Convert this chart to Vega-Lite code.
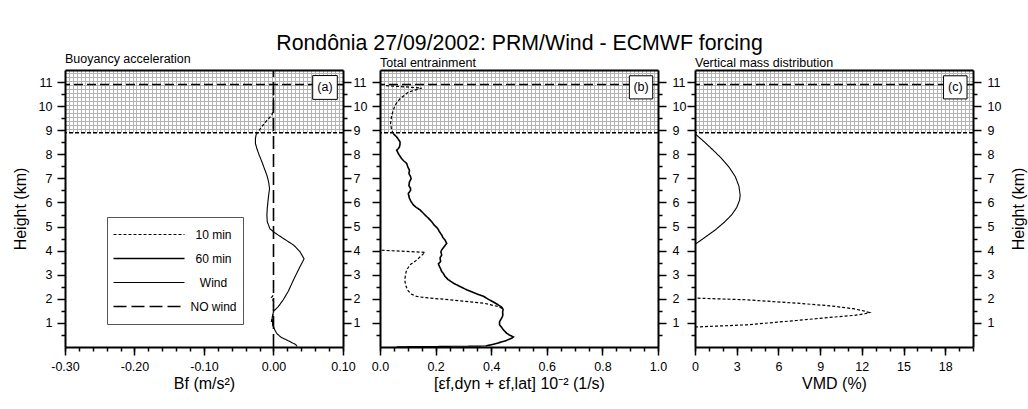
{
 "$schema": "https://vega.github.io/schema/vega-lite/v6.json",
 "padding": {"left": 12, "top": 33, "right": 5, "bottom": 5},
 "background": "white",
 "title": {"text": "Rondônia 27/09/2002: PRM/Wind - ECMWF forcing", "fontSize": 21.3, "fontWeight": "normal", "anchor": "middle", "baseline": "alphabetic", "offset": -18, "color": "black"},
 "datasets": {"curves": [
  {"panel":"a","series":"Wind","seg":"a1","h":0.02,"v":0.034},
  {"panel":"a","series":"Wind","seg":"a1","h":0.1,"v":0.032},
  {"panel":"a","series":"Wind","seg":"a1","h":0.25,"v":0.022},
  {"panel":"a","series":"Wind","seg":"a1","h":0.4,"v":0.011},
  {"panel":"a","series":"Wind","seg":"a1","h":0.55,"v":0.005},
  {"panel":"a","series":"Wind","seg":"a1","h":0.7,"v":0.002},
  {"panel":"a","series":"Wind","seg":"a1","h":0.92,"v":-0.001},
  {"panel":"a","series":"Wind","seg":"a1","h":1.2,"v":-0.002},
  {"panel":"a","series":"Wind","seg":"a1","h":1.48,"v":0.0},
  {"panel":"a","series":"Wind","seg":"a1","h":1.68,"v":0.007},
  {"panel":"a","series":"Wind","seg":"a1","h":1.96,"v":0.014},
  {"panel":"a","series":"Wind","seg":"a1","h":2.3,"v":0.021},
  {"panel":"a","series":"Wind","seg":"a1","h":2.86,"v":0.03},
  {"panel":"a","series":"Wind","seg":"a1","h":3.27,"v":0.037},
  {"panel":"a","series":"Wind","seg":"a1","h":3.66,"v":0.044},
  {"panel":"a","series":"Wind","seg":"a1","h":3.96,"v":0.038},
  {"panel":"a","series":"Wind","seg":"a1","h":4.23,"v":0.029},
  {"panel":"a","series":"Wind","seg":"a1","h":4.51,"v":0.014},
  {"panel":"a","series":"Wind","seg":"a1","h":4.72,"v":0.003},
  {"panel":"a","series":"Wind","seg":"a1","h":4.9,"v":-0.005},
  {"panel":"a","series":"Wind","seg":"a1","h":5.2,"v":-0.009},
  {"panel":"a","series":"Wind","seg":"a1","h":5.48,"v":-0.0095},
  {"panel":"a","series":"Wind","seg":"a1","h":5.75,"v":-0.009},
  {"panel":"a","series":"Wind","seg":"a1","h":6.03,"v":-0.008},
  {"panel":"a","series":"Wind","seg":"a1","h":6.3,"v":-0.007},
  {"panel":"a","series":"Wind","seg":"a1","h":6.58,"v":-0.0057},
  {"panel":"a","series":"Wind","seg":"a1","h":6.85,"v":-0.007},
  {"panel":"a","series":"Wind","seg":"a1","h":7.13,"v":-0.0095},
  {"panel":"a","series":"Wind","seg":"a1","h":7.4,"v":-0.013},
  {"panel":"a","series":"Wind","seg":"a1","h":7.69,"v":-0.0167},
  {"panel":"a","series":"Wind","seg":"a1","h":8.0,"v":-0.021},
  {"panel":"a","series":"Wind","seg":"a1","h":8.24,"v":-0.024},
  {"panel":"a","series":"Wind","seg":"a1","h":8.45,"v":-0.026},
  {"panel":"a","series":"Wind","seg":"a1","h":8.65,"v":-0.026},
  {"panel":"a","series":"Wind","seg":"a1","h":8.82,"v":-0.025},
  {"panel":"a","series":"10 min","seg":"a2","h":8.82,"v":-0.025},
  {"panel":"a","series":"10 min","seg":"a2","h":9.06,"v":-0.019},
  {"panel":"a","series":"10 min","seg":"a2","h":9.25,"v":-0.014},
  {"panel":"a","series":"10 min","seg":"a2","h":9.41,"v":-0.0095},
  {"panel":"a","series":"10 min","seg":"a2","h":9.62,"v":-0.0024},
  {"panel":"a","series":"10 min","seg":"a2","h":9.89,"v":0.0},
  {"panel":"a","series":"10 min","seg":"a2","h":10.9,"v":0.0},
  {"panel":"a","series":"10 min","seg":"a3","h":0.85,"v":0.0},
  {"panel":"a","series":"10 min","seg":"a3","h":1.05,"v":-0.003},
  {"panel":"a","series":"10 min","seg":"a3","h":1.2,"v":-0.002},
  {"panel":"a","series":"10 min","seg":"a3","h":1.4,"v":0.0},
  {"panel":"a","series":"10 min","seg":"a3","h":1.9,"v":0.0},
  {"panel":"a","series":"10 min","seg":"a3","h":2.05,"v":-0.003},
  {"panel":"a","series":"10 min","seg":"a3","h":2.12,"v":-0.001},
  {"panel":"a","series":"10 min","seg":"a3","h":2.2,"v":0.0},
  {"panel":"a","series":"NO wind","seg":"a4","h":0.0,"v":0.0},
  {"panel":"a","series":"NO wind","seg":"a4","h":11.5,"v":0.0},
  {"panel":"b","series":"Wind","seg":"b4","h":0.01,"v":0.06},
  {"panel":"b","series":"Wind","seg":"b4","h":0.04,"v":0.38},
  {"panel":"b","series":"60 min","seg":"b1","h":0.04,"v":0.38},
  {"panel":"b","series":"60 min","seg":"b1","h":0.12,"v":0.41},
  {"panel":"b","series":"60 min","seg":"b1","h":0.25,"v":0.45},
  {"panel":"b","series":"60 min","seg":"b1","h":0.37,"v":0.475},
  {"panel":"b","series":"60 min","seg":"b1","h":0.42,"v":0.48},
  {"panel":"b","series":"60 min","seg":"b1","h":0.5,"v":0.465},
  {"panel":"b","series":"60 min","seg":"b1","h":0.58,"v":0.455},
  {"panel":"b","series":"60 min","seg":"b1","h":0.7,"v":0.445},
  {"panel":"b","series":"60 min","seg":"b1","h":0.79,"v":0.439},
  {"panel":"b","series":"60 min","seg":"b1","h":0.92,"v":0.43},
  {"panel":"b","series":"60 min","seg":"b1","h":1.05,"v":0.43},
  {"panel":"b","series":"60 min","seg":"b1","h":1.13,"v":0.434},
  {"panel":"b","series":"60 min","seg":"b1","h":1.25,"v":0.44},
  {"panel":"b","series":"60 min","seg":"b1","h":1.34,"v":0.442},
  {"panel":"b","series":"60 min","seg":"b1","h":1.45,"v":0.441},
  {"panel":"b","series":"60 min","seg":"b1","h":1.55,"v":0.443},
  {"panel":"b","series":"60 min","seg":"b1","h":1.64,"v":0.439},
  {"panel":"b","series":"60 min","seg":"b1","h":1.75,"v":0.425},
  {"panel":"b","series":"60 min","seg":"b1","h":1.86,"v":0.409},
  {"panel":"b","series":"60 min","seg":"b1","h":1.98,"v":0.39},
  {"panel":"b","series":"60 min","seg":"b1","h":2.1,"v":0.373},
  {"panel":"b","series":"60 min","seg":"b1","h":2.22,"v":0.345},
  {"panel":"b","series":"60 min","seg":"b1","h":2.37,"v":0.3125},
  {"panel":"b","series":"60 min","seg":"b1","h":2.5,"v":0.29},
  {"panel":"b","series":"60 min","seg":"b1","h":2.65,"v":0.264},
  {"panel":"b","series":"60 min","seg":"b1","h":2.8,"v":0.245},
  {"panel":"b","series":"60 min","seg":"b1","h":2.93,"v":0.234},
  {"panel":"b","series":"60 min","seg":"b1","h":3.05,"v":0.228},
  {"panel":"b","series":"60 min","seg":"b1","h":3.13,"v":0.222},
  {"panel":"b","series":"60 min","seg":"b1","h":3.25,"v":0.218},
  {"panel":"b","series":"60 min","seg":"b1","h":3.34,"v":0.214},
  {"panel":"b","series":"60 min","seg":"b1","h":3.45,"v":0.21},
  {"panel":"b","series":"60 min","seg":"b1","h":3.55,"v":0.218},
  {"panel":"b","series":"60 min","seg":"b1","h":3.7,"v":0.216},
  {"panel":"b","series":"60 min","seg":"b1","h":3.82,"v":0.222},
  {"panel":"b","series":"60 min","seg":"b1","h":3.95,"v":0.219},
  {"panel":"b","series":"60 min","seg":"b1","h":4.03,"v":0.222},
  {"panel":"b","series":"60 min","seg":"b1","h":4.17,"v":0.231},
  {"panel":"b","series":"60 min","seg":"b1","h":4.3,"v":0.24},
  {"panel":"b","series":"60 min","seg":"b1","h":4.44,"v":0.234},
  {"panel":"b","series":"60 min","seg":"b1","h":4.55,"v":0.226},
  {"panel":"b","series":"60 min","seg":"b1","h":4.65,"v":0.222},
  {"panel":"b","series":"60 min","seg":"b1","h":4.8,"v":0.213},
  {"panel":"b","series":"60 min","seg":"b1","h":4.93,"v":0.207},
  {"panel":"b","series":"60 min","seg":"b1","h":5.05,"v":0.196},
  {"panel":"b","series":"60 min","seg":"b1","h":5.2,"v":0.186},
  {"panel":"b","series":"60 min","seg":"b1","h":5.35,"v":0.174},
  {"panel":"b","series":"60 min","seg":"b1","h":5.48,"v":0.162},
  {"panel":"b","series":"60 min","seg":"b1","h":5.6,"v":0.152},
  {"panel":"b","series":"60 min","seg":"b1","h":5.69,"v":0.144},
  {"panel":"b","series":"60 min","seg":"b1","h":5.8,"v":0.13},
  {"panel":"b","series":"60 min","seg":"b1","h":5.9,"v":0.12},
  {"panel":"b","series":"60 min","seg":"b1","h":6.05,"v":0.111},
  {"panel":"b","series":"60 min","seg":"b1","h":6.17,"v":0.106},
  {"panel":"b","series":"60 min","seg":"b1","h":6.3,"v":0.103},
  {"panel":"b","series":"60 min","seg":"b1","h":6.38,"v":0.102},
  {"panel":"b","series":"60 min","seg":"b1","h":6.5,"v":0.11},
  {"panel":"b","series":"60 min","seg":"b1","h":6.58,"v":0.11},
  {"panel":"b","series":"60 min","seg":"b1","h":6.7,"v":0.104},
  {"panel":"b","series":"60 min","seg":"b1","h":6.86,"v":0.106},
  {"panel":"b","series":"60 min","seg":"b1","h":6.98,"v":0.112},
  {"panel":"b","series":"60 min","seg":"b1","h":7.07,"v":0.11},
  {"panel":"b","series":"60 min","seg":"b1","h":7.2,"v":0.104},
  {"panel":"b","series":"60 min","seg":"b1","h":7.34,"v":0.106},
  {"panel":"b","series":"60 min","seg":"b1","h":7.48,"v":0.1},
  {"panel":"b","series":"60 min","seg":"b1","h":7.62,"v":0.096},
  {"panel":"b","series":"60 min","seg":"b1","h":7.72,"v":0.086},
  {"panel":"b","series":"60 min","seg":"b1","h":7.82,"v":0.078},
  {"panel":"b","series":"60 min","seg":"b1","h":7.92,"v":0.072},
  {"panel":"b","series":"60 min","seg":"b1","h":8.03,"v":0.066},
  {"panel":"b","series":"60 min","seg":"b1","h":8.17,"v":0.06},
  {"panel":"b","series":"60 min","seg":"b1","h":8.24,"v":0.066},
  {"panel":"b","series":"60 min","seg":"b1","h":8.31,"v":0.07},
  {"panel":"b","series":"60 min","seg":"b1","h":8.42,"v":0.072},
  {"panel":"b","series":"60 min","seg":"b1","h":8.52,"v":0.072},
  {"panel":"b","series":"60 min","seg":"b1","h":8.62,"v":0.066},
  {"panel":"b","series":"60 min","seg":"b1","h":8.72,"v":0.06},
  {"panel":"b","series":"60 min","seg":"b1","h":8.86,"v":0.048},
  {"panel":"b","series":"10 min","seg":"b2","h":8.86,"v":0.048},
  {"panel":"b","series":"10 min","seg":"b2","h":9.0,"v":0.042},
  {"panel":"b","series":"10 min","seg":"b2","h":9.28,"v":0.038},
  {"panel":"b","series":"10 min","seg":"b2","h":9.62,"v":0.042},
  {"panel":"b","series":"10 min","seg":"b2","h":10.04,"v":0.054},
  {"panel":"b","series":"10 min","seg":"b2","h":10.31,"v":0.072},
  {"panel":"b","series":"10 min","seg":"b2","h":10.58,"v":0.102},
  {"panel":"b","series":"10 min","seg":"b2","h":10.75,"v":0.15},
  {"panel":"b","series":"10 min","seg":"b2","h":10.8,"v":0.09},
  {"panel":"b","series":"10 min","seg":"b2","h":10.85,"v":0.02},
  {"panel":"b","series":"10 min","seg":"b3","h":1.6,"v":0.44},
  {"panel":"b","series":"10 min","seg":"b3","h":1.68,"v":0.425},
  {"panel":"b","series":"10 min","seg":"b3","h":1.82,"v":0.373},
  {"panel":"b","series":"10 min","seg":"b3","h":1.96,"v":0.252},
  {"panel":"b","series":"10 min","seg":"b3","h":2.05,"v":0.16},
  {"panel":"b","series":"10 min","seg":"b3","h":2.1,"v":0.132},
  {"panel":"b","series":"10 min","seg":"b3","h":2.2,"v":0.112},
  {"panel":"b","series":"10 min","seg":"b3","h":2.35,"v":0.1},
  {"panel":"b","series":"10 min","seg":"b3","h":2.51,"v":0.094},
  {"panel":"b","series":"10 min","seg":"b3","h":2.7,"v":0.09},
  {"panel":"b","series":"10 min","seg":"b3","h":2.86,"v":0.09},
  {"panel":"b","series":"10 min","seg":"b3","h":3.0,"v":0.092},
  {"panel":"b","series":"10 min","seg":"b3","h":3.13,"v":0.094},
  {"panel":"b","series":"10 min","seg":"b3","h":3.27,"v":0.1},
  {"panel":"b","series":"10 min","seg":"b3","h":3.41,"v":0.108},
  {"panel":"b","series":"10 min","seg":"b3","h":3.61,"v":0.132},
  {"panel":"b","series":"10 min","seg":"b3","h":3.8,"v":0.15},
  {"panel":"b","series":"10 min","seg":"b3","h":3.93,"v":0.162},
  {"panel":"b","series":"10 min","seg":"b3","h":4.02,"v":0.0},
  {"panel":"c","series":"Wind","seg":"c1","h":4.26,"v":0.0},
  {"panel":"c","series":"Wind","seg":"c1","h":4.57,"v":0.76},
  {"panel":"c","series":"Wind","seg":"c1","h":4.87,"v":1.48},
  {"panel":"c","series":"Wind","seg":"c1","h":5.18,"v":2.11},
  {"panel":"c","series":"Wind","seg":"c1","h":5.48,"v":2.63},
  {"panel":"c","series":"Wind","seg":"c1","h":5.79,"v":3.0},
  {"panel":"c","series":"Wind","seg":"c1","h":6.1,"v":3.21},
  {"panel":"c","series":"Wind","seg":"c1","h":6.3,"v":3.25},
  {"panel":"c","series":"Wind","seg":"c1","h":6.68,"v":3.16},
  {"panel":"c","series":"Wind","seg":"c1","h":7.07,"v":2.9},
  {"panel":"c","series":"Wind","seg":"c1","h":7.45,"v":2.47},
  {"panel":"c","series":"Wind","seg":"c1","h":7.83,"v":1.91},
  {"panel":"c","series":"Wind","seg":"c1","h":8.21,"v":1.24},
  {"panel":"c","series":"Wind","seg":"c1","h":8.6,"v":0.51},
  {"panel":"c","series":"Wind","seg":"c1","h":8.85,"v":0.0},
  {"panel":"c","series":"10 min","seg":"c2","h":0.83,"v":0.0},
  {"panel":"c","series":"10 min","seg":"c2","h":0.92,"v":3.7},
  {"panel":"c","series":"10 min","seg":"c2","h":1.1,"v":7.31},
  {"panel":"c","series":"10 min","seg":"c2","h":1.23,"v":9.71},
  {"panel":"c","series":"10 min","seg":"c2","h":1.31,"v":11.4},
  {"panel":"c","series":"10 min","seg":"c2","h":1.38,"v":12.2},
  {"panel":"c","series":"10 min","seg":"c2","h":1.43,"v":12.55},
  {"panel":"c","series":"10 min","seg":"c2","h":1.49,"v":12.2},
  {"panel":"c","series":"10 min","seg":"c2","h":1.59,"v":11.4},
  {"panel":"c","series":"10 min","seg":"c2","h":1.71,"v":9.71},
  {"panel":"c","series":"10 min","seg":"c2","h":1.82,"v":7.31},
  {"panel":"c","series":"10 min","seg":"c2","h":1.96,"v":3.7},
  {"panel":"c","series":"10 min","seg":"c2","h":2.03,"v":0.0}
 ]},
 "spacing": 37,
 "bounds": "flush",
 "resolve": {"scale": {"strokeDash": "independent", "strokeWidth": "independent"}},
 "hconcat": [
  {
   "width": 278, "height": 277,
   "title": {"text": "Buoyancy acceleration", "anchor": "start", "frame": "group", "fontSize": 12.5, "fontWeight": "normal", "baseline": "alphabetic", "offset": -9, "color": "black"},
   "resolve": {"scale": {"x": "independent"}, "axis": {"x": "independent", "y": "independent"}},
   "layer": [
    {
     "data": {"values": [{}]},
     "mark": {"type": "rect", "fill": "white"},
     "encoding": {
      "x": {"datum": 0, "type": "quantitative", "scale": {"domain": [0, 70], "nice": false, "zero": false}, "axis": {"orient": "top", "grid": true, "tickCount": 70, "ticks": false, "labels": false, "domain": true, "title": null, "zindex": 0}},
      "x2": {"datum": 70},
      "y": {"datum": 0, "type": "quantitative", "scale": {"domain": [0, 11.5], "nice": false, "zero": false}, "axis": {"orient": "left", "grid": true, "values": [9.066, 9.231, 9.397, 9.562, 9.728, 9.894, 10.059, 10.225, 10.39, 10.556, 10.722, 10.887, 11.053, 11.218, 11.384], "ticks": false, "labels": false, "domain": false, "title": null, "zindex": 0}},
      "y2": {"datum": 8.9}
     }
    },
    {
     "resolve": {"axis": {"x": "independent", "y": "independent"}},
     "layer": [
      {
       "data": {"name": "curves"},
       "transform": [{"filter": "datum.panel == 'a'"}],
       "mark": {"type": "line", "color": "black"},
       "encoding": {
        "x": {"field": "v", "type": "quantitative", "scale": {"domain": [-0.3, 0.1], "nice": false, "zero": false}, "axis": {"orient": "bottom", "values": [-0.3, -0.2, -0.1, 0, 0.1], "labelExpr": "replace(format(datum.value, '.2f'), '−', '-')", "tickSize": 8, "labelPadding": 5, "title": "Bf (m/s²)", "titlePadding": 3, "domain": true, "grid": false, "zindex": 1}},
        "y": {"field": "h", "type": "quantitative", "scale": {"domain": [0, 11.5], "nice": false, "zero": false}, "axis": {"orient": "left", "values": [1,2,3,4,5,6,7,8,9,10,11], "tickSize": 8, "labelPadding": 5, "title": "Height (km)", "titlePadding": 10, "domain": true, "grid": false, "zindex": 1}},
        "strokeDash": {"field": "series", "type": "nominal", "scale": {"domain": ["10 min", "60 min", "Wind", "NO wind"], "range": [[3, 2], [1, 0], [1, 0], [13, 5]]}, "legend": {"orient": "none", "legendX": 42, "legendY": 147, "title": null}},
        "strokeWidth": {"field": "series", "type": "nominal", "scale": {"type": "ordinal", "domain": ["10 min", "60 min", "Wind", "NO wind"], "range": [1.2, 1.6, 1.1, 1.6]}, "legend": {"orient": "none", "legendX": 42, "legendY": 147, "title": null}},
        "detail": {"field": "seg"},
        "order": {"field": "h", "type": "quantitative"}
       }
      },
      {
       "data": {"values": [{}]},
       "mark": {"type": "point", "opacity": 0},
       "encoding": {
        "x": {"datum": -0.3, "type": "quantitative", "scale": {"domain": [-0.3, 0.1], "nice": false, "zero": false}, "axis": {"orient": "bottom", "values": [-0.3,-0.28,-0.26,-0.24,-0.22,-0.2,-0.18,-0.16,-0.14,-0.12,-0.1,-0.08,-0.06,-0.04,-0.02,0,0.02,0.04,0.06,0.08,0.1], "tickSize": 4, "labels": false, "domain": false, "grid": false, "title": null, "zindex": 1}},
        "y": {"datum": 0, "type": "quantitative", "scale": {"domain": [0, 11.5], "nice": false, "zero": false}, "axis": {"orient": "left", "values": [0.5,1.5,2.5,3.5,4.5,5.5,6.5,7.5,8.5,9.5,10.5], "tickSize": 4, "labels": false, "domain": false, "grid": false, "title": null, "zindex": 1}}
       }
      },
      {
       "data": {"values": [{}]},
       "mark": {"type": "point", "opacity": 0},
       "encoding": {
        "x": {"datum": -0.3, "type": "quantitative", "scale": {"domain": [-0.3, 0.1], "nice": false, "zero": false}, "axis": null},
        "y": {"datum": 0, "type": "quantitative", "scale": {"domain": [0, 11.5], "nice": false, "zero": false}, "axis": {"orient": "right", "values": [1,2,3,4,5,6,7,8,9,10,11], "tickSize": 8, "labelPadding": 2, "domain": true, "grid": false, "title": null, "zindex": 1}}
       }
      },
      {
       "data": {"values": [{}]},
       "mark": {"type": "point", "opacity": 0},
       "encoding": {
        "x": {"datum": -0.3, "type": "quantitative", "scale": {"domain": [-0.3, 0.1], "nice": false, "zero": false}, "axis": null},
        "y": {"datum": 0, "type": "quantitative", "scale": {"domain": [0, 11.5], "nice": false, "zero": false}, "axis": {"orient": "right", "values": [0.5,1.5,2.5,3.5,4.5,5.5,6.5,7.5,8.5,9.5,10.5], "tickSize": 4, "labels": false, "domain": false, "grid": false, "title": null, "zindex": 1}}
       }
      },
      {
       "data": {"values": [{}]},
       "mark": {"type": "rule", "color": "black", "strokeDash": [4, 2], "strokeWidth": 1.5},
       "encoding": {"y": {"datum": 8.9, "type": "quantitative", "scale": {"domain": [0, 11.5], "nice": false, "zero": false}, "axis": null}}
      },
      {
       "data": {"values": [{}]},
       "mark": {"type": "rule", "color": "black", "strokeDash": [9, 4], "strokeWidth": 1.5},
       "encoding": {"y": {"datum": 10.9, "type": "quantitative", "scale": {"domain": [0, 11.5], "nice": false, "zero": false}, "axis": null}}
      },
      {
       "data": {"values": [{}]},
       "mark": {"type": "rect", "fill": "white", "stroke": "black", "strokeWidth": 1},
       "encoding": {
        "x": {"datum": 0.0564, "type": "quantitative", "scale": {"domain": [-0.3, 0.1], "nice": false, "zero": false}, "axis": null},
        "x2": {"datum": 0.0918},
        "y": {"datum": 10.28, "type": "quantitative", "scale": {"domain": [0, 11.5], "nice": false, "zero": false}, "axis": null},
        "y2": {"datum": 11.27}
       }
      },
      {
       "data": {"values": [{}]},
       "mark": {"type": "text", "text": "(a)", "fontSize": 12.5, "color": "black", "align": "center", "baseline": "middle"},
       "encoding": {
        "x": {"datum": 0.074, "type": "quantitative", "scale": {"domain": [-0.3, 0.1], "nice": false, "zero": false}, "axis": null},
        "y": {"datum": 10.78, "type": "quantitative", "scale": {"domain": [0, 11.5], "nice": false, "zero": false}, "axis": null}
       }
      }
     ]
    }
   ]
  },
  {
   "width": 278, "height": 277,
   "title": {"text": "Total entrainment", "anchor": "start", "frame": "group", "fontSize": 12.5, "fontWeight": "normal", "baseline": "alphabetic", "offset": -9, "color": "black"},
   "resolve": {"scale": {"x": "independent"}, "axis": {"x": "independent", "y": "independent"}},
   "layer": [
    {
     "data": {"values": [{}]},
     "mark": {"type": "rect", "fill": "white"},
     "encoding": {
      "x": {"datum": 0, "type": "quantitative", "scale": {"domain": [0, 70], "nice": false, "zero": false}, "axis": {"orient": "top", "grid": true, "tickCount": 70, "ticks": false, "labels": false, "domain": true, "title": null, "zindex": 0}},
      "x2": {"datum": 70},
      "y": {"datum": 0, "type": "quantitative", "scale": {"domain": [0, 11.5], "nice": false, "zero": false}, "axis": {"orient": "left", "grid": true, "values": [9.066, 9.231, 9.397, 9.562, 9.728, 9.894, 10.059, 10.225, 10.39, 10.556, 10.722, 10.887, 11.053, 11.218, 11.384], "ticks": false, "labels": false, "domain": false, "title": null, "zindex": 0}},
      "y2": {"datum": 8.9}
     }
    },
    {
     "resolve": {"axis": {"x": "independent", "y": "independent"}},
     "layer": [
      {
       "data": {"name": "curves"},
       "transform": [{"filter": "datum.panel == 'b'"}],
       "mark": {"type": "line", "color": "black"},
       "encoding": {
        "x": {"field": "v", "type": "quantitative", "scale": {"domain": [0, 1], "nice": false, "zero": false}, "axis": {"orient": "bottom", "values": [0, 0.2, 0.4, 0.6, 0.8, 1.0], "labelExpr": "format(datum.value, '.1f')", "tickSize": 8, "labelPadding": 5, "title": "[εf,dyn + εf,lat] 10⁻² (1/s)", "titlePadding": 3, "domain": true, "grid": false, "zindex": 1}},
        "y": {"field": "h", "type": "quantitative", "scale": {"domain": [0, 11.5], "nice": false, "zero": false}, "axis": {"orient": "left", "values": [1,2,3,4,5,6,7,8,9,10,11], "tickSize": 8, "labels": false, "title": null, "domain": true, "grid": false, "zindex": 1}},
        "strokeDash": {"field": "series", "type": "nominal", "scale": {"domain": ["10 min", "60 min", "Wind", "NO wind"], "range": [[3, 2], [1, 0], [1, 0], [13, 5]]}, "legend": null},
        "strokeWidth": {"field": "series", "type": "nominal", "scale": {"type": "ordinal", "domain": ["10 min", "60 min", "Wind", "NO wind"], "range": [1.2, 1.6, 1.1, 1.6]}, "legend": null},
        "detail": {"field": "seg"},
        "order": {"field": "h", "type": "quantitative"}
       }
      },
      {
       "data": {"values": [{}]},
       "mark": {"type": "point", "opacity": 0},
       "encoding": {
        "x": {"datum": 0, "type": "quantitative", "scale": {"domain": [0, 1], "nice": false, "zero": false}, "axis": {"orient": "bottom", "values": [0,0.05,0.1,0.15,0.2,0.25,0.3,0.35,0.4,0.45,0.5,0.55,0.6,0.65,0.7,0.75,0.8,0.85,0.9,0.95,1.0], "tickSize": 4, "labels": false, "domain": false, "grid": false, "title": null, "zindex": 1}},
        "y": {"datum": 0, "type": "quantitative", "scale": {"domain": [0, 11.5], "nice": false, "zero": false}, "axis": {"orient": "left", "values": [0.5,1.5,2.5,3.5,4.5,5.5,6.5,7.5,8.5,9.5,10.5], "tickSize": 4, "labels": false, "domain": false, "grid": false, "title": null, "zindex": 1}}
       }
      },
      {
       "data": {"values": [{}]},
       "mark": {"type": "point", "opacity": 0},
       "encoding": {
        "x": {"datum": 0, "type": "quantitative", "scale": {"domain": [0, 1], "nice": false, "zero": false}, "axis": null},
        "y": {"datum": 0, "type": "quantitative", "scale": {"domain": [0, 11.5], "nice": false, "zero": false}, "axis": {"orient": "right", "values": [1,2,3,4,5,6,7,8,9,10,11], "tickSize": 8, "labelPadding": 6, "domain": true, "grid": false, "title": null, "zindex": 1}}
       }
      },
      {
       "data": {"values": [{}]},
       "mark": {"type": "point", "opacity": 0},
       "encoding": {
        "x": {"datum": 0, "type": "quantitative", "scale": {"domain": [0, 1], "nice": false, "zero": false}, "axis": null},
        "y": {"datum": 0, "type": "quantitative", "scale": {"domain": [0, 11.5], "nice": false, "zero": false}, "axis": {"orient": "right", "values": [0.5,1.5,2.5,3.5,4.5,5.5,6.5,7.5,8.5,9.5,10.5], "tickSize": 4, "labels": false, "domain": false, "grid": false, "title": null, "zindex": 1}}
       }
      },
      {
       "data": {"values": [{}]},
       "mark": {"type": "rule", "color": "black", "strokeDash": [4, 2], "strokeWidth": 1.5},
       "encoding": {"y": {"datum": 8.9, "type": "quantitative", "scale": {"domain": [0, 11.5], "nice": false, "zero": false}, "axis": null}}
      },
      {
       "data": {"values": [{}]},
       "mark": {"type": "rule", "color": "black", "strokeDash": [9, 4], "strokeWidth": 1.5},
       "encoding": {"y": {"datum": 10.9, "type": "quantitative", "scale": {"domain": [0, 11.5], "nice": false, "zero": false}, "axis": null}}
      },
      {
       "data": {"values": [{}]},
       "mark": {"type": "rect", "fill": "white", "stroke": "black", "strokeWidth": 1},
       "encoding": {
        "x": {"datum": 0.897, "type": "quantitative", "scale": {"domain": [0, 1], "nice": false, "zero": false}, "axis": null},
        "x2": {"datum": 0.981},
        "y": {"datum": 10.3, "type": "quantitative", "scale": {"domain": [0, 11.5], "nice": false, "zero": false}, "axis": null},
        "y2": {"datum": 11.26}
       }
      },
      {
       "data": {"values": [{}]},
       "mark": {"type": "text", "text": "(b)", "fontSize": 12.5, "color": "black", "align": "center", "baseline": "middle"},
       "encoding": {
        "x": {"datum": 0.939, "type": "quantitative", "scale": {"domain": [0, 1], "nice": false, "zero": false}, "axis": null},
        "y": {"datum": 10.78, "type": "quantitative", "scale": {"domain": [0, 11.5], "nice": false, "zero": false}, "axis": null}
       }
      }
     ]
    }
   ]
  },
  {
   "width": 278, "height": 277,
   "title": {"text": "Vertical mass distribution", "anchor": "start", "frame": "group", "fontSize": 12.5, "fontWeight": "normal", "baseline": "alphabetic", "offset": -9, "color": "black"},
   "resolve": {"scale": {"x": "independent"}, "axis": {"x": "independent", "y": "independent"}},
   "layer": [
    {
     "data": {"values": [{}]},
     "mark": {"type": "rect", "fill": "white"},
     "encoding": {
      "x": {"datum": 0, "type": "quantitative", "scale": {"domain": [0, 70], "nice": false, "zero": false}, "axis": {"orient": "top", "grid": true, "tickCount": 70, "ticks": false, "labels": false, "domain": true, "title": null, "zindex": 0}},
      "x2": {"datum": 70},
      "y": {"datum": 0, "type": "quantitative", "scale": {"domain": [0, 11.5], "nice": false, "zero": false}, "axis": {"orient": "left", "grid": true, "values": [9.066, 9.231, 9.397, 9.562, 9.728, 9.894, 10.059, 10.225, 10.39, 10.556, 10.722, 10.887, 11.053, 11.218, 11.384], "ticks": false, "labels": false, "domain": false, "title": null, "zindex": 0}},
      "y2": {"datum": 8.9}
     }
    },
    {
     "resolve": {"axis": {"x": "independent", "y": "independent"}},
     "layer": [
      {
       "data": {"name": "curves"},
       "transform": [{"filter": "datum.panel == 'c'"}],
       "mark": {"type": "line", "color": "black"},
       "encoding": {
        "x": {"field": "v", "type": "quantitative", "scale": {"domain": [0, 20], "nice": false, "zero": false}, "axis": {"orient": "bottom", "values": [0, 3, 6, 9, 12, 15, 18], "tickSize": 8, "labelPadding": 5, "title": "VMD (%)", "titlePadding": 3, "domain": true, "grid": false, "zindex": 1}},
        "y": {"field": "h", "type": "quantitative", "scale": {"domain": [0, 11.5], "nice": false, "zero": false}, "axis": {"orient": "left", "values": [1,2,3,4,5,6,7,8,9,10,11], "tickSize": 8, "labels": false, "title": null, "domain": true, "grid": false, "zindex": 1}},
        "strokeDash": {"field": "series", "type": "nominal", "scale": {"domain": ["10 min", "60 min", "Wind", "NO wind"], "range": [[3, 2], [1, 0], [1, 0], [13, 5]]}, "legend": null},
        "strokeWidth": {"field": "series", "type": "nominal", "scale": {"type": "ordinal", "domain": ["10 min", "60 min", "Wind", "NO wind"], "range": [1.2, 1.6, 1.1, 1.6]}, "legend": null},
        "detail": {"field": "seg"},
        "order": {"field": "h", "type": "quantitative"}
       }
      },
      {
       "data": {"values": [{}]},
       "mark": {"type": "point", "opacity": 0},
       "encoding": {
        "x": {"datum": 0, "type": "quantitative", "scale": {"domain": [0, 20], "nice": false, "zero": false}, "axis": {"orient": "bottom", "values": [0,1,2,3,4,5,6,7,8,9,10,11,12,13,14,15,16,17,18,19,20], "tickSize": 4, "labels": false, "domain": false, "grid": false, "title": null, "zindex": 1}},
        "y": {"datum": 0, "type": "quantitative", "scale": {"domain": [0, 11.5], "nice": false, "zero": false}, "axis": {"orient": "left", "values": [0.5,1.5,2.5,3.5,4.5,5.5,6.5,7.5,8.5,9.5,10.5], "tickSize": 4, "labels": false, "domain": false, "grid": false, "title": null, "zindex": 1}}
       }
      },
      {
       "data": {"values": [{}]},
       "mark": {"type": "point", "opacity": 0},
       "encoding": {
        "x": {"datum": 0, "type": "quantitative", "scale": {"domain": [0, 20], "nice": false, "zero": false}, "axis": null},
        "y": {"datum": 0, "type": "quantitative", "scale": {"domain": [0, 11.5], "nice": false, "zero": false}, "axis": {"orient": "right", "values": [1,2,3,4,5,6,7,8,9,10,11], "tickSize": 8, "labelPadding": 6, "domain": true, "grid": false, "title": "Height (km)", "titleAngle": 270, "titleBaseline": "top", "titlePadding": 10, "zindex": 1}}
       }
      },
      {
       "data": {"values": [{}]},
       "mark": {"type": "point", "opacity": 0},
       "encoding": {
        "x": {"datum": 0, "type": "quantitative", "scale": {"domain": [0, 20], "nice": false, "zero": false}, "axis": null},
        "y": {"datum": 0, "type": "quantitative", "scale": {"domain": [0, 11.5], "nice": false, "zero": false}, "axis": {"orient": "right", "values": [0.5,1.5,2.5,3.5,4.5,5.5,6.5,7.5,8.5,9.5,10.5], "tickSize": 4, "labels": false, "domain": false, "grid": false, "title": null, "zindex": 1}}
       }
      },
      {
       "data": {"values": [{}]},
       "mark": {"type": "rule", "color": "black", "strokeDash": [4, 2], "strokeWidth": 1.5},
       "encoding": {"y": {"datum": 8.9, "type": "quantitative", "scale": {"domain": [0, 11.5], "nice": false, "zero": false}, "axis": null}}
      },
      {
       "data": {"values": [{}]},
       "mark": {"type": "rule", "color": "black", "strokeDash": [9, 4], "strokeWidth": 1.5},
       "encoding": {"y": {"datum": 10.9, "type": "quantitative", "scale": {"domain": [0, 11.5], "nice": false, "zero": false}, "axis": null}}
      },
      {
       "data": {"values": [{}]},
       "mark": {"type": "rect", "fill": "white", "stroke": "black", "strokeWidth": 1},
       "encoding": {
        "x": {"datum": 17.88, "type": "quantitative", "scale": {"domain": [0, 20], "nice": false, "zero": false}, "axis": null},
        "x2": {"datum": 19.57},
        "y": {"datum": 10.3, "type": "quantitative", "scale": {"domain": [0, 11.5], "nice": false, "zero": false}, "axis": null},
        "y2": {"datum": 11.26}
       }
      },
      {
       "data": {"values": [{}]},
       "mark": {"type": "text", "text": "(c)", "fontSize": 12.5, "color": "black", "align": "center", "baseline": "middle"},
       "encoding": {
        "x": {"datum": 18.73, "type": "quantitative", "scale": {"domain": [0, 20], "nice": false, "zero": false}, "axis": null},
        "y": {"datum": 10.78, "type": "quantitative", "scale": {"domain": [0, 11.5], "nice": false, "zero": false}, "axis": null}
       }
      }
     ]
    }
   ]
  }
 ],
 "config": {
  "font": "Liberation Sans",
  "view": {"stroke": null},
  "axis": {"labelFontSize": 12.5, "labelColor": "black", "titleFontSize": 16, "titleFontWeight": "normal", "titleColor": "black", "tickColor": "black", "tickWidth": 1.5, "domainColor": "black", "domainWidth": 2, "gridColor": "#b3b3b3", "gridWidth": 1, "gridOpacity": 1, "labelFlush": false, "labelOverlap": false},
  "legend": {"symbolType": "stroke", "symbolSize": 5041, "clipHeight": 24, "padding": 5.5, "rowPadding": 0, "strokeColor": "#555555", "fillColor": "white", "labelAlign": "center", "labelOffset": 28, "labelFontSize": 12, "labelColor": "black", "symbolStrokeColor": "black", "labelLimit": 0}
 }
}
